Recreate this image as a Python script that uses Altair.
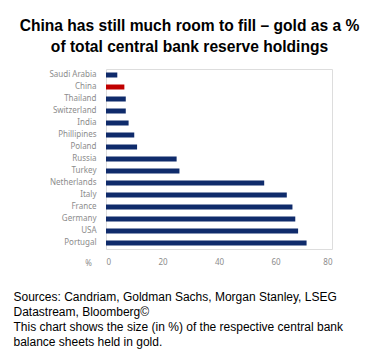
import altair as alt
import pandas as pd

countries = ["Saudi Arabia", "China", "Thailand", "Switzerland", "India", "Phillipines",
             "Poland", "Russia", "Turkey", "Netherlands", "Italy", "France", "Germany",
             "USA", "Portugal"]
values = [4, 6.5, 7, 7, 8, 10, 11, 25, 26, 56, 64, 66, 67, 68, 71]
highlight = ["other", "China", "other", "other", "other", "other", "other", "other",
             "other", "other", "other", "other", "other", "other", "other"]

title_lines = ["China has still much room to fill – gold as a %",
               "of total central bank reserve holdings"]
footer_lines = ["Sources: Candriam, Goldman Sachs, Morgan Stanley, LSEG",
                "Datastream, Bloomberg©",
                "This chart shows the size (in %) of the respective central bank",
                "balance sheets held in gold."]

df = pd.DataFrame({"country": countries, "value": values, "group": highlight})

lab_font = "Noto Sans"
grey = "#8c8c8c"

chart = alt.Chart(df).mark_bar(size=5).encode(
    y=alt.Y("country:N", sort=countries, title="%",
            scale=alt.Scale(paddingInner=0.5, paddingOuter=0.25),
            axis=alt.Axis(labelFont=lab_font, labelFontSize=8, labelColor=grey,
                          labelPadding=10, ticks=False, domain=False,
                          titleAngle=0, titleX=-18, titleY=194, titleAlign="center",
                          titleBaseline="middle",
                          titleFont=lab_font, titleFontSize=8, titleColor=grey,
                          titleFontWeight="normal")),
    x=alt.X("value:Q", scale=alt.Scale(domain=[0, 80], nice=False),
            title=footer_lines,
            axis=alt.Axis(values=[0, 20, 40, 60, 80], labelFont=lab_font, labelFontSize=8,
                          labelColor=grey, ticks=False, domain=False, grid=False,
                          labelPadding=9,
                          titleAnchor="start", titleAlign="left", titleX=-93, titleY=42,
                          titleBaseline="top", titleFont="Liberation Sans",
                          titleFontSize=12, titleFontWeight="normal", titleColor="#000000",
                          titleLineHeight=15.3)),
    color=alt.Color("group:N", scale=alt.Scale(domain=["China", "other"],
                                               range=["#c00000", "#0f2b6b"]),
                    legend=None),
).properties(
    width=226, height=180,
    title=alt.TitleParams(title_lines, anchor="middle", dx=-29.5, font="Liberation Sans",
                          fontSize=15.6, fontWeight="bold", color="#000000",
                          lineHeight=21, offset=13),
    autosize=alt.AutoSizeParams(type="none"),
    padding={"left": 106, "top": 69, "right": 47, "bottom": 103},
).configure_view(stroke=None).configure(background="white")

chart.save("out.html", embed_options={"renderer": "svg", "actions": False})
